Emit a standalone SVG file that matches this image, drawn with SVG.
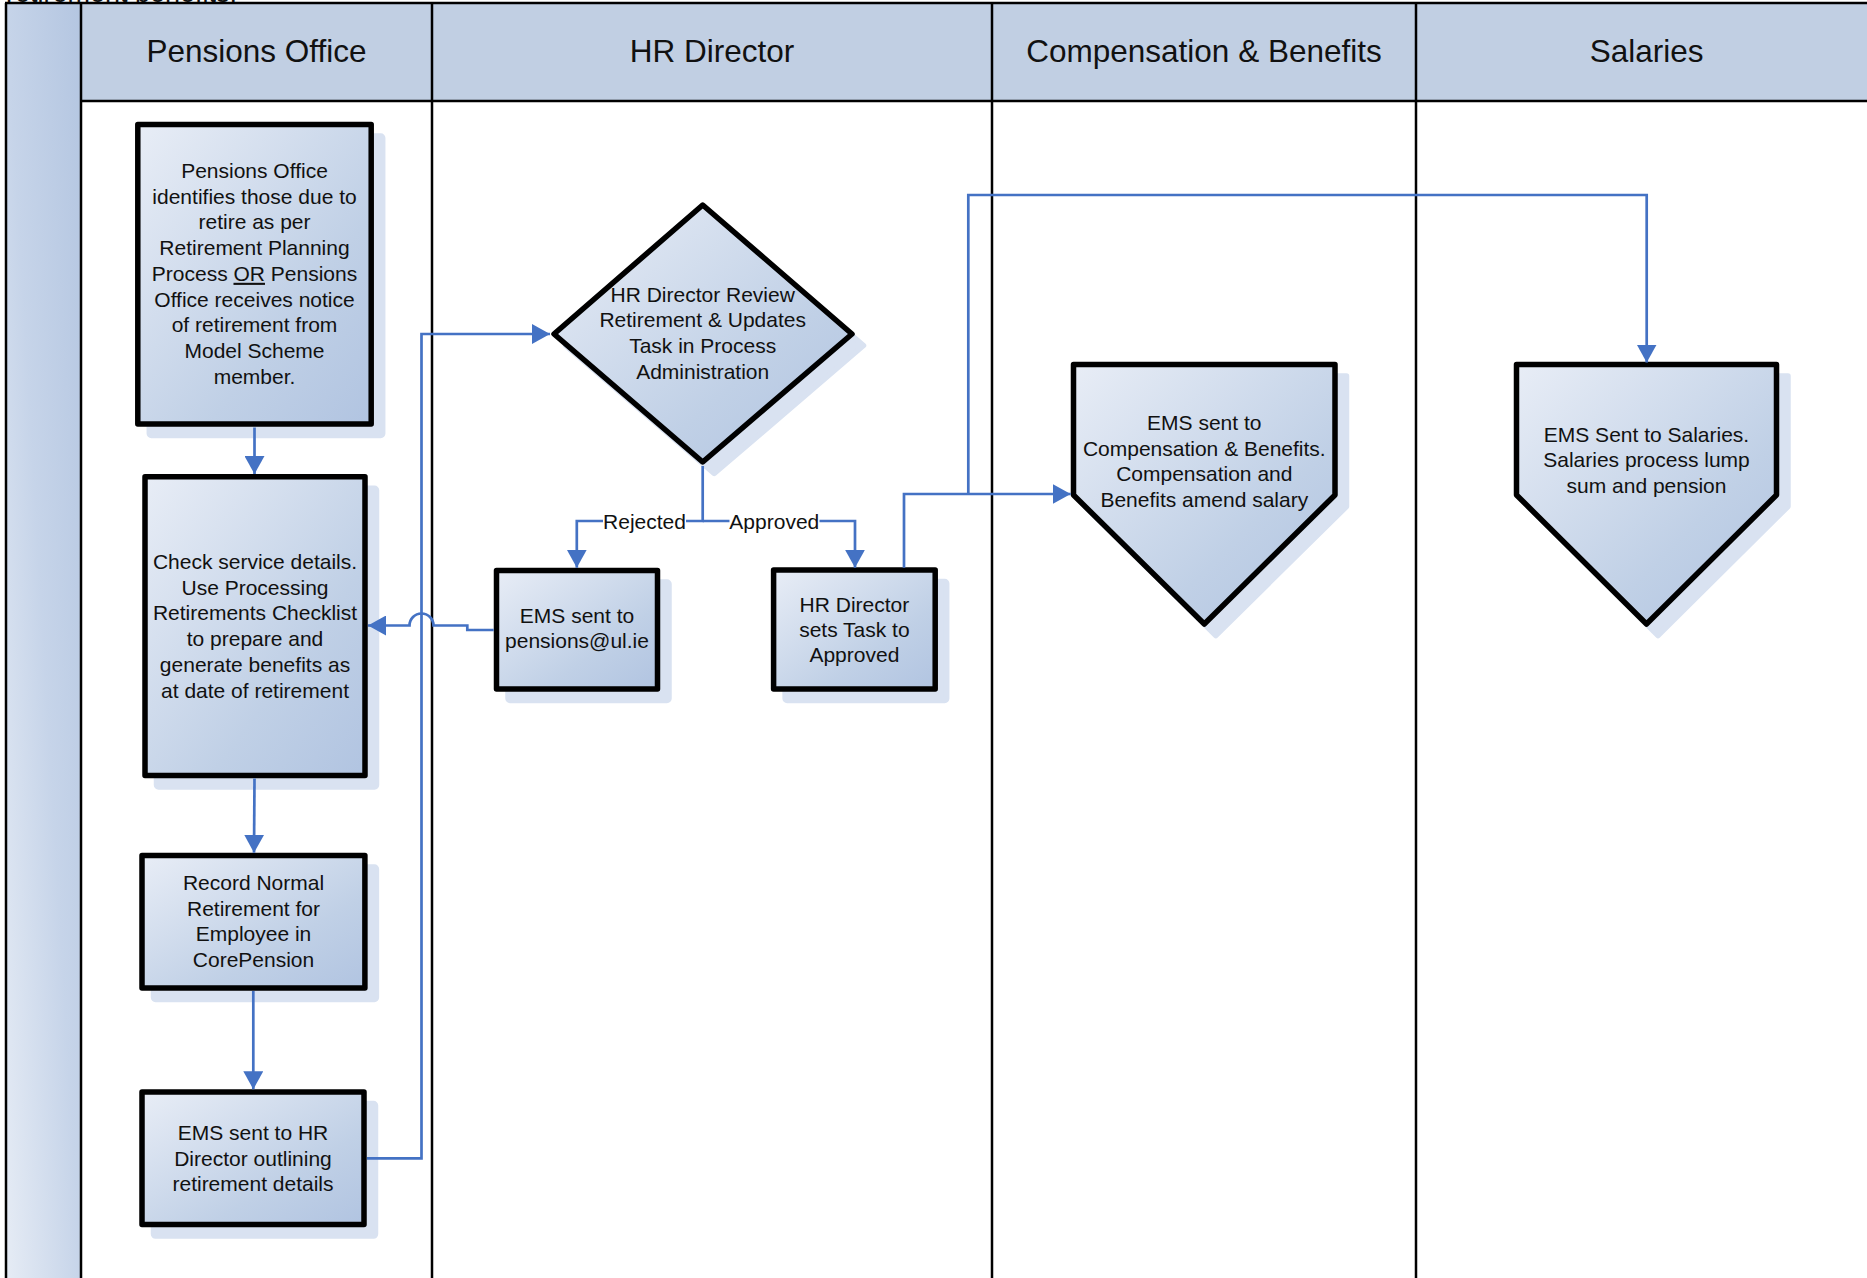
<svg xmlns="http://www.w3.org/2000/svg" width="1867" height="1278" viewBox="0 0 1867 1278">
<style>
  .lane { stroke: #000; stroke-width: 2.5; fill: none; }
  .hdr { font-family: "Liberation Sans", Arial, sans-serif; font-size: 31.5px; fill: #111; text-anchor: middle; }
  .txt { font-family: "Liberation Sans", Arial, sans-serif; font-size: 21px; fill: #111; text-anchor: middle; }
  .node { fill: url(#nodeGrad); stroke: #000; stroke-width: 5.5; stroke-linejoin: round; }
  .shadow { fill: #d9e2f1; stroke: #d9e2f1; stroke-width: 5.5; stroke-linejoin: round; }
  .conn { fill: none; stroke: #4472c4; stroke-width: 2.7; }
  .lbl { font-family: "Liberation Sans", Arial, sans-serif; font-size: 21px; fill: #111; text-anchor: middle; }
</style>
<defs>
  <linearGradient id="nodeGrad" x1="0" y1="0" x2="1" y2="1">
    <stop offset="0" stop-color="#e8edf6"/>
    <stop offset="0.65" stop-color="#c0d0e6"/>
    <stop offset="1" stop-color="#b1c4e1"/>
  </linearGradient>
  <linearGradient id="stripGrad" x1="0" y1="1" x2="1" y2="0">
    <stop offset="0" stop-color="#e6ecf5"/>
    <stop offset="0.5" stop-color="#c6d4e9"/>
    <stop offset="1" stop-color="#b4c6e1"/>
  </linearGradient>
  <marker id="arr" viewBox="0 0 18 20" refX="18" refY="10" markerWidth="18" markerHeight="20" markerUnits="userSpaceOnUse" orient="auto">
    <path d="M0,0 L18,10 L0,20 Z" fill="#4472c4"/>
  </marker>
</defs>

<rect width="1867" height="1278" fill="#ffffff"/>

<g id="lanes">
  <rect x="6" y="3" width="75" height="1275" fill="url(#stripGrad)"/>
  <rect x="81" y="3" width="1786" height="98" fill="#c1cfe3"/>
  <line class="lane" x1="5" y1="3" x2="1867" y2="3"/>
  <line class="lane" x1="6" y1="3" x2="6" y2="1278"/>
  <line class="lane" x1="81" y1="101" x2="1867" y2="101"/>
  <line class="lane" x1="81" y1="3" x2="81" y2="1278"/>
  <line class="lane" x1="432" y1="3" x2="432" y2="1278"/>
  <line class="lane" x1="992" y1="3" x2="992" y2="1278"/>
  <line class="lane" x1="1416" y1="3" x2="1416" y2="1278"/>
  <text class="hdr" x="256.5" y="62">Pensions Office</text>
  <text class="hdr" x="712" y="62">HR Director</text>
  <text class="hdr" x="1204" y="62">Compensation &amp; Benefits</text>
  <text class="hdr" x="1646.7" y="62">Salaries</text>
  <text x="6" y="2" font-family="Liberation Sans, Arial, sans-serif" font-size="27px" fill="#111">retirement benefits.</text>
</g>

<g id="n1">
  <rect class="shadow" x="149.3" y="136" width="233.4" height="299.4" rx="2"/>
  <rect class="node" x="137.8" y="124.5" width="233.4" height="299.4"/>
  <text class="txt" x="254.5" y="178">Pensions Office</text>
  <text class="txt" x="254.5" y="203.7">identifies those due to</text>
  <text class="txt" x="254.5" y="229.4">retire as per</text>
  <text class="txt" x="254.5" y="255.1">Retirement Planning</text>
  <text class="txt" x="254.5" y="280.8">Process <tspan text-decoration="underline">OR</tspan> Pensions</text>
  <text class="txt" x="254.5" y="306.5">Office receives notice</text>
  <text class="txt" x="254.5" y="332.2">of retirement from</text>
  <text class="txt" x="254.5" y="357.9">Model Scheme</text>
  <text class="txt" x="254.5" y="383.6">member.</text>
</g>

<g id="n2">
  <rect class="shadow" x="156.5" y="488.3" width="220" height="298.7" rx="2"/>
  <rect class="node" x="145" y="476.8" width="220" height="298.7"/>
  <text class="txt" x="255" y="569">Check service details.</text>
  <text class="txt" x="255" y="594.7">Use Processing</text>
  <text class="txt" x="255" y="620.4">Retirements Checklist</text>
  <text class="txt" x="255" y="646.1">to prepare and</text>
  <text class="txt" x="255" y="671.8">generate benefits as</text>
  <text class="txt" x="255" y="697.5">at date of retirement</text>
</g>

<g id="n3">
  <rect class="shadow" x="153.5" y="867" width="222.9" height="132.4" rx="2"/>
  <rect class="node" x="142" y="855.5" width="222.9" height="132.4"/>
  <text class="txt" x="253.5" y="890">Record Normal</text>
  <text class="txt" x="253.5" y="915.7">Retirement for</text>
  <text class="txt" x="253.5" y="941.4">Employee in</text>
  <text class="txt" x="253.5" y="967.1">CorePension</text>
</g>

<g id="n4">
  <rect class="shadow" x="153.5" y="1103.5" width="222" height="132.6" rx="2"/>
  <rect class="node" x="142" y="1092" width="222" height="132.6"/>
  <text class="txt" x="253" y="1140">EMS sent to HR</text>
  <text class="txt" x="253" y="1165.7">Director outlining</text>
  <text class="txt" x="253" y="1191.4">retirement details</text>
</g>

<g id="decision">
  <path class="shadow" d="M714.2,216.5 L863.5,345.5 L714.2,473.5 L565.5,345.5 Z"/>
  <path class="node" d="M702.7,205 L852,334 L702.7,462 L554,334 Z"/>
  <text class="txt" x="702.7" y="301.7">HR Director Review</text>
  <text class="txt" x="702.7" y="327.4">Retirement &amp; Updates</text>
  <text class="txt" x="702.7" y="353.1">Task in Process</text>
  <text class="txt" x="702.7" y="378.8">Administration</text>
</g>

<g id="ems-pensions">
  <rect class="shadow" x="508" y="582" width="161" height="118.4" rx="2"/>
  <rect class="node" x="496.5" y="570.5" width="161" height="118.4"/>
  <text class="txt" x="577" y="623.3">EMS sent to</text>
  <text class="txt" x="577" y="648.3">pensions@ul.ie</text>
</g>

<g id="hr-approved">
  <rect class="shadow" x="785.1" y="581.5" width="161.6" height="119" rx="2"/>
  <rect class="node" x="773.6" y="570" width="161.6" height="119"/>
  <text class="txt" x="854.4" y="611.7">HR Director</text>
  <text class="txt" x="854.4" y="636.7">sets Task to</text>
  <text class="txt" x="854.4" y="661.7">Approved</text>
</g>

<g id="comp-benefits">
  <path class="shadow" d="M1085,376 L1346.5,376 L1346.5,506.5 L1215.8,635.5 L1085,506.5 Z"/>
  <path class="node" d="M1073.5,364.5 L1335,364.5 L1335,495 L1204.3,624 L1073.5,495 Z"/>
  <text class="txt" x="1204.3" y="430">EMS sent to</text>
  <text class="txt" x="1204.3" y="455.7">Compensation &amp; Benefits.</text>
  <text class="txt" x="1204.3" y="481.4">Compensation and</text>
  <text class="txt" x="1204.3" y="507.1">Benefits amend salary</text>
</g>

<g id="salaries">
  <path class="shadow" d="M1528,376 L1788,376 L1788,506.5 L1658,635.5 L1528,506.5 Z"/>
  <path class="node" d="M1516.5,364.5 L1776.5,364.5 L1776.5,495 L1646.5,624 L1516.5,495 Z"/>
  <text class="txt" x="1646.5" y="441.7">EMS Sent to Salaries.</text>
  <text class="txt" x="1646.5" y="467.4">Salaries process lump</text>
  <text class="txt" x="1646.5" y="493.1">sum and pension</text>
</g>

<g id="connectors">
  <path class="conn" d="M254.5,427.5 L254.5,474" marker-end="url(#arr)"/>
  <path class="conn" d="M254.5,778.5 L254,852.7" marker-end="url(#arr)"/>
  <path class="conn" d="M253.3,991 L253.3,1089.3" marker-end="url(#arr)"/>
  <path class="conn" d="M367,1158.3 L421.5,1158.3 L421.5,334 L550,334" marker-end="url(#arr)"/>
  <path class="conn" d="M493.7,630 L467.3,630 L467.3,625.5 L433.5,625.5 A12,12 0 0 0 409.5,625.5 L368,625.5" marker-end="url(#arr)"/>
  <path class="conn" d="M702.7,466 L702.7,521 L576.8,521 L576.8,567.7" marker-end="url(#arr)"/>
  <path class="conn" d="M702.7,521 L855,521 L855,567.7" marker-end="url(#arr)"/>
  <path class="conn" d="M904,567.7 L904,494 L1070.7,494" marker-end="url(#arr)"/>
  <path class="conn" d="M968.3,494 L968.3,195 L1646.7,195 L1646.7,362.5" marker-end="url(#arr)"/>
  <rect x="603" y="510" width="83" height="22" fill="#ffffff"/>
  <text class="lbl" x="644.5" y="528.5">Rejected</text>
  <rect x="729.5" y="510" width="90" height="22" fill="#ffffff"/>
  <text class="lbl" x="774.3" y="528.5">Approved</text>
</g>
</svg>
